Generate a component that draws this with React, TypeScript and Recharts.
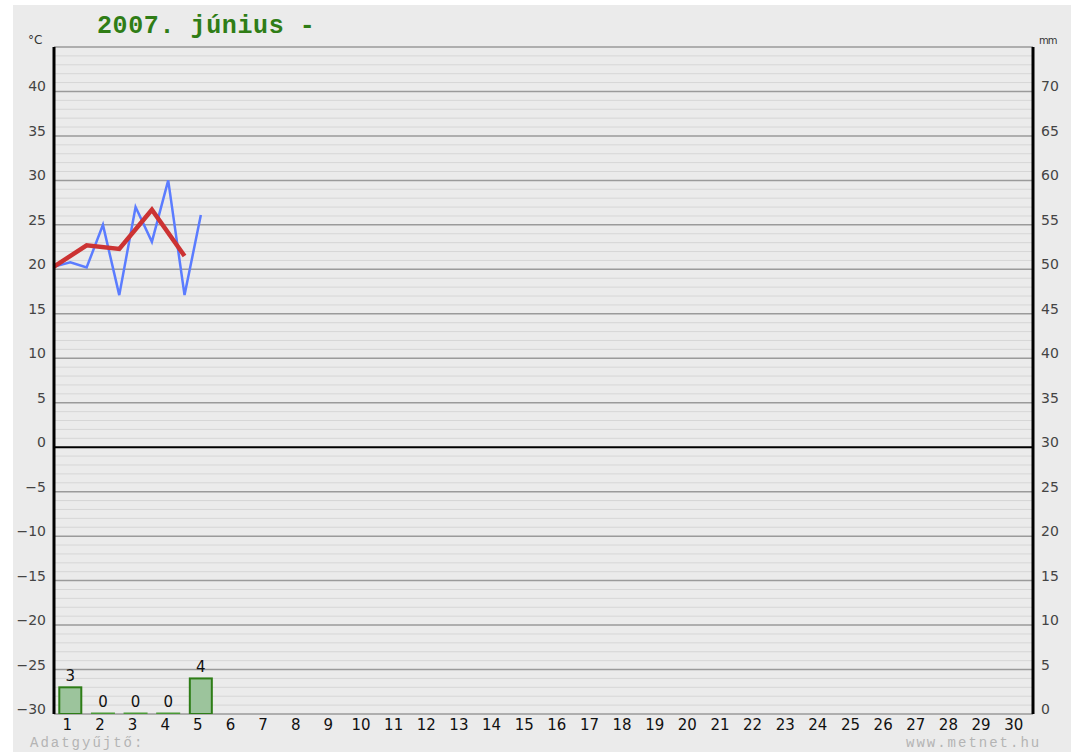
import { ComposedChart, Line, Bar, XAxis, YAxis, ReferenceLine, LabelList, CartesianGrid } from 'recharts'

const days = ['1', '2', '3', '4', '5', '6', '7', '8', '9', '10', '11', '12', '13', '14', '15',
  '16', '17', '18', '19', '20', '21', '22', '23', '24', '25', '26', '27', '28', '29', '30']

const tempTicks = [-30, -25, -20, -15, -10, -5, 0, 5, 10, 15, 20, 25, 30, 35, 40]
const rainTicks = [0, 5, 10, 15, 20, 25, 30, 35, 40, 45, 50, 55, 60, 65, 70]

// twice-daily temperature readings (°C)
const tempHalfDay = [20.3, 20.8, 20.2, 25.0, 17.1, 27.0, 23.1, 30.0, 17.1, 26.1]
// daily mean temperature (°C)
const tempDaily = [20.3, 22.7, 22.3, 26.7, 21.5]
// daily rainfall (mm)
const rainMm = [3, 0, 0, 0, 4]

const rows = days.flatMap((_, i) => [
  { x: i, blue: tempHalfDay[i * 2] ?? null, red: tempDaily[i] ?? null, rain: null },
  { x: i + 0.5, blue: tempHalfDay[i * 2 + 1] ?? null, red: null, rain: rainMm[i] ?? null },
]).concat([{ x: 30, blue: null, red: null, rain: null }])

const minorLevels: number[] = []
const majorLevels: number[] = []
for (let v = -30; v <= 45; v++) {
  if (v % 5 !== 0) minorLevels.push(v)
  else if (v !== 0) majorLevels.push(v)
}

const fmt = (v: number) => (v < 0 ? '\u2212' + Math.abs(v) : String(v))

const LeftTick = ({ x, y, payload }: any) => (
  <text x={x} y={y - 5} textAnchor="end" dominantBaseline="central" fill="#444"
    style={{ fontFamily: 'DejaVu Sans', fontSize: 14 }}>{fmt(payload.value)}</text>
)
const RightTick = ({ x, y, payload }: any) => (
  <text x={x} y={y - 5} textAnchor="start" dominantBaseline="central" fill="#444"
    style={{ fontFamily: 'DejaVu Sans', fontSize: 14 }}>{payload.value}</text>
)
const DayTick = ({ x, y, payload }: any) => (
  <text x={x - 3} y={y + 3} textAnchor="middle" dominantBaseline="central" fill="#111"
    style={{ fontFamily: 'DejaVu Sans', fontSize: 15 }}>{days[Math.floor(payload.value)]}</text>
)

const RainBar = (props: any) => {
  const { x, y, width, height, payload } = props
  if (payload == null || payload.rain == null) return null
  const cx = x + width / 2
  const bottom = y + height
  if (payload.rain === 0) {
    return <line x1={cx - 12} x2={cx + 12} y1={bottom - 0.5} y2={bottom - 0.5} stroke="#4a9a36" strokeWidth={2} />
  }
  return <rect x={cx - 11} y={y} width={22} height={height} fill="#9cc49c" stroke="#2e7d17" strokeWidth={2} />
}

export default function App() {
  return (
    <div style={{ position: 'relative', width: 1071, height: 752, background: '#fff' }}>
      <style>{'body{margin:0}'}</style>
      <div style={{ position: 'absolute', left: 13, top: 5, width: 1058, height: 747, background: '#ebebeb' }} />
      <div style={{ position: 'absolute', left: 97, top: 12, color: '#2f7d16', fontFamily: 'Liberation Mono',
        fontWeight: 700, fontSize: 25, letterSpacing: 0.6, whiteSpace: 'pre' }}>2007. június -</div>
      <div style={{ position: 'absolute', left: 28, top: 33, color: '#333', fontFamily: 'DejaVu Sans', fontSize: 12 }}>°C</div>
      <div style={{ position: 'absolute', left: 1039, top: 35, color: '#333', fontFamily: 'DejaVu Sans', fontSize: 10,
        letterSpacing: -1 }}>mm</div>
      <div style={{ position: 'absolute', left: 30, top: 735, color: '#b4b4b4', fontFamily: 'Liberation Mono', fontSize: 14,
        letterSpacing: 2 }}>Adatgyűjtő:</div>
      <div style={{ position: 'absolute', left: 906, top: 735, color: '#b4b4b4', fontFamily: 'Liberation Mono', fontSize: 14,
        letterSpacing: 2 }}>www.metnet.hu</div>
      <div style={{ position: 'absolute', left: 0, top: 0 }}>
        <ComposedChart width={1071} height={752} data={rows} margin={{ top: 47, right: 8, bottom: 18, left: 14 }}>
          <CartesianGrid yAxisId="t" vertical={false} horizontalValues={minorLevels} stroke="#d6d6d6" strokeWidth={1} />
          <CartesianGrid yAxisId="t" vertical={false} horizontalValues={majorLevels} stroke="#9a9a9a" strokeWidth={1.5} />
          <XAxis dataKey="x" type="number" domain={[0, 30]} ticks={days.map((_, i) => i + 0.5)} interval={0}
            axisLine={false} tickLine={false} height={20} tick={<DayTick />} />
          <YAxis yAxisId="t" domain={[-30, 45]} ticks={tempTicks} interval={0} width={40}
            axisLine={{ stroke: '#000', strokeWidth: 3 }} tickLine={false} tick={<LeftTick />} allowDataOverflow />
          <YAxis yAxisId="mm" orientation="right" domain={[0, 75]} ticks={rainTicks} interval={0} width={30}
            axisLine={{ stroke: '#000', strokeWidth: 3 }} tickLine={false} tick={<RightTick />} allowDataOverflow />
          <ReferenceLine yAxisId="t" y={0} stroke="#000" strokeWidth={2} />
          <Bar yAxisId="mm" dataKey="rain" minPointSize={1} shape={<RainBar />} isAnimationActive={false}>
            <LabelList dataKey="rain" position="top" offset={6} fill="#111"
              style={{ fontFamily: 'DejaVu Sans', fontSize: 15 }} />
          </Bar>
          <Line yAxisId="t" dataKey="blue" stroke="#5b7cff" strokeWidth={2.5} dot={false}
            isAnimationActive={false} />
          <Line yAxisId="t" dataKey="red" stroke="#cc3333" strokeWidth={4.5} dot={false} connectNulls
            isAnimationActive={false} />
        </ComposedChart>
      </div>
    </div>
  )
}
